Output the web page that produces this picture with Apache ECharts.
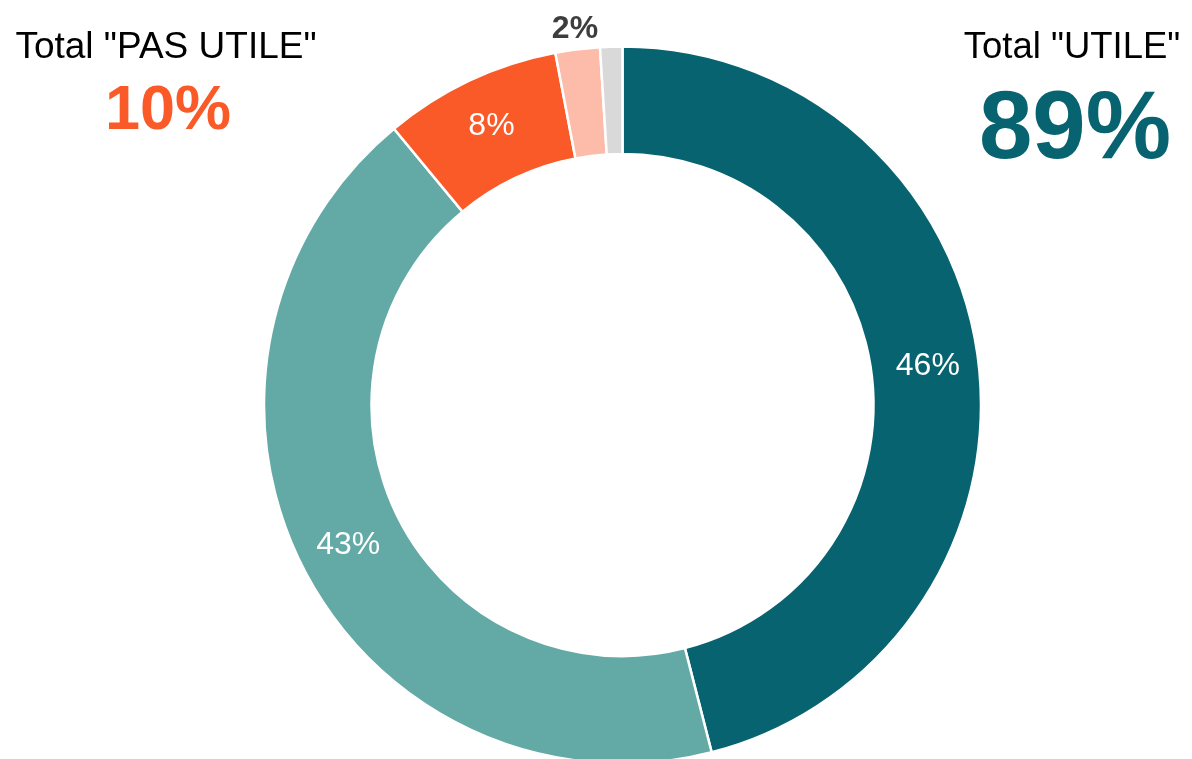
<!DOCTYPE html>
<html>
<head>
<meta charset="utf-8">
<script src="https://cdn.jsdelivr.net/npm/echarts@6/dist/echarts.min.js"></script>
<style>
html,body{margin:0;padding:0;background:#fff;}
#chart{width:1192px;height:759px;}
</style>
</head>
<body>
<div id="chart"></div>
<script>
const categories = ['Très utile', 'Plutôt utile', 'Plutôt pas utile', 'Pas du tout utile', 'Sans réponse'];
const values = [46, 43, 8, 2, 1];
const colors = ['#07636f', '#63a9a5', '#f95a28', '#fdbba9', '#d9d9d9'];
const utileIdx = [0, 1];
const pasUtileIdx = [2, 3];

const FONT = '"Liberation Sans", Arial, Helvetica, sans-serif';
const totalUtile = utileIdx.reduce((s, i) => s + values[i], 0);
const totalPas = pasUtileIdx.reduce((s, i) => s + values[i], 0);

const mainData = categories.map((name, i) => ({
  name, value: values[i],
  itemStyle: { color: colors[i] },
  label: { show: i <= 2 }
}));
const outerLabelData = categories.map((name, i) => ({
  name, value: values[i],
  label: { show: i === 3 }
}));

const chart = echarts.init(document.getElementById('chart'), null, { renderer: 'canvas' });
chart.setOption({
  backgroundColor: '#ffffff',
  animation: false,
  title: [
    { text: 'Total "PAS UTILE"', left: 166, top: 29, padding: 0, textAlign: 'center',
      textStyle: { fontFamily: FONT, fontSize: 37, fontWeight: 'normal', color: '#000' } },
    { text: totalPas + '%', left: 168, top: 80, padding: 0, textAlign: 'center',
      textStyle: { fontFamily: FONT, fontSize: 63, fontWeight: 'bold', color: colors[2] } },
    { text: 'Total "UTILE"', left: 1072, top: 29, padding: 0, textAlign: 'center',
      textStyle: { fontFamily: FONT, fontSize: 36.5, fontWeight: 'normal', color: '#000' } },
    { text: totalUtile + '%', left: 1075, top: 84, padding: 0, textAlign: 'center',
      textStyle: { fontFamily: FONT, fontSize: 96, fontWeight: 'bold', color: colors[0] } }
  ],
  series: [
    {
      type: 'pie',
      center: [622.5, 405],
      radius: [251, 358.5],
      startAngle: 90,
      clockwise: true,
      avoidLabelOverlap: false,
      silent: true,
      itemStyle: { borderColor: '#ffffff', borderWidth: 2.5 },
      label: {
        show: true, position: 'inside', formatter: '{c}%',
        fontFamily: FONT, fontSize: 32, color: '#ffffff', fontWeight: 'normal',
        verticalAlign: 'top', lineHeight: 8
      },
      labelLine: { show: false },
      data: mainData
    },
    {
      type: 'pie',
      center: [622.5, 405],
      radius: [365, 387],
      startAngle: 90,
      clockwise: true,
      avoidLabelOverlap: false,
      silent: true,
      itemStyle: { color: 'rgba(0,0,0,0)' },
      label: {
        position: 'inside', formatter: '{c}%',
        fontFamily: FONT, fontSize: 32, color: '#3d3d3d', fontWeight: 'bold'
      },
      labelLine: { show: false },
      data: outerLabelData
    }
  ]
});
</script>
</body>
</html>
